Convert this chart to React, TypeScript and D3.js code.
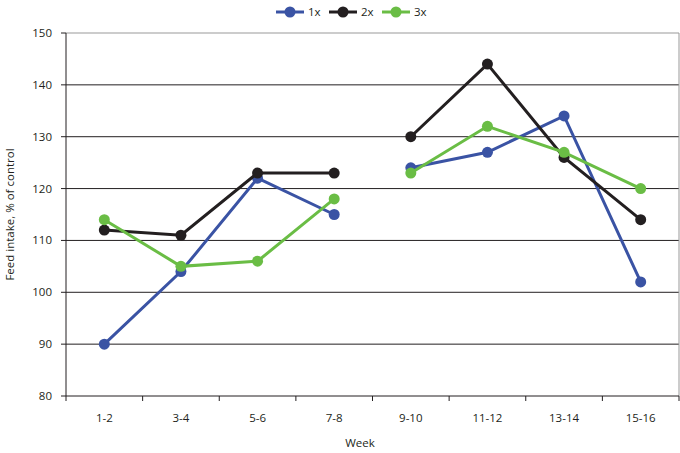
import React from "react";
import * as d3 from "d3";

const categories = ["1-2", "3-4", "5-6", "7-8", "9-10", "11-12", "13-14", "15-16"];
const series1x = [90, 104, 122, 115, 124, 127, 134, 102];
const series2x = [112, 111, 123, 123, 130, 144, 126, 114];
const series3x = [114, 105, 106, 118, 123, 132, 127, 120];
const seriesNames = ["1x", "2x", "3x"];
const yTicks = [80, 90, 100, 110, 120, 130, 140, 150];
const segments = [[0, 3], [4, 7]];

const colors = ["#3a53a4", "#231f20", "#6abd45"];
const W = 680, H = 453;
const m = { left: 66, right: 679, top: 33, bottom: 396 };
const font = "'Open Sans', 'DejaVu Sans', sans-serif";

export default function App() {
  const x = d3.scaleBand().domain(categories).range([m.left, m.right]);
  const y = d3.scaleLinear().domain([80, 150]).range([m.bottom, m.top]);
  const allSeries = [series1x, series2x, series3x];
  const line = d3.line<number>().x((_, i) => 0).y(d => y(d));
  const cx = (i: number) => (x(categories[i]) as number) + x.bandwidth() / 2;
  const lineGen = d3
    .line<[number, number]>()
    .x(d => cx(d[0]))
    .y(d => y(d[1]));
  const legendX = [276, 329, 382];

  return (
    <svg width={W} height={H} style={{ position: "absolute", left: 0, top: 0 }}>
      <rect width={W} height={H} fill="#fff" />
      {yTicks.map(t => (
        <g key={t}>
          {t !== 80 && (
            <line x1={m.left} x2={m.right} y1={y(t)} y2={y(t)} stroke={t === 150 ? "#999" : "#231f20"} strokeWidth={1} />
          )}
          <line x1={m.left - 5} x2={m.left} y1={y(t)} y2={y(t)} stroke="#231f20" />
          <text x={52} y={y(t)} dy="0.35em" textAnchor="end" fontSize={11.5} fontFamily={font} fill="#231f20">{t}</text>
        </g>
      ))}
      <line x1={m.right} x2={m.right} y1={m.top} y2={m.bottom} stroke="#999" />
      <line x1={m.left} x2={m.left} y1={m.top} y2={m.bottom} stroke="#231f20" />
      <line x1={m.left} x2={m.right} y1={m.bottom} y2={m.bottom} stroke="#231f20" />
      {categories.map((c, i) => (
        <g key={c}>
          <line x1={x(c) as number} x2={x(c) as number} y1={m.bottom} y2={m.bottom + 5} stroke="#231f20" />
          <text x={cx(i)} y={422} textAnchor="middle" fontSize={11.5} fontFamily={font} fill="#231f20">{c}</text>
        </g>
      ))}
      <line x1={m.right} x2={m.right} y1={m.bottom} y2={m.bottom + 5} stroke="#231f20" />
      <text x={360} y={447} textAnchor="middle" fontSize={11.5} fontFamily={font} fill="#231f20">Week</text>
      <text transform={`translate(14, ${(m.top + m.bottom) / 2}) rotate(-90)`} textAnchor="middle" fontSize={11.5} fontFamily={font} fill="#231f20">Feed intake, % of control</text>
      {allSeries.map((s, si) => (
        <g key={si}>
          {segments.map(([a, b], k) => {
            const pts: [number, number][] = [];
            for (let i = a; i <= b; i++) pts.push([i, s[i]]);
            return <path key={k} d={lineGen(pts) as string} fill="none" stroke={colors[si]} strokeWidth={3} />;
          })}
          {s.map((v, i) => (
            <circle key={i} cx={cx(i)} cy={y(v)} r={5.5} fill={colors[si]} />
          ))}
        </g>
      ))}
      {seriesNames.map((n, i) => (
        <g key={n}>
          <line x1={legendX[i]} x2={legendX[i] + 28} y1={12} y2={12} stroke={colors[i]} strokeWidth={3} />
          <circle cx={legendX[i] + 14} cy={12} r={5.5} fill={colors[i]} />
          <text x={legendX[i] + 32} y={12} dy="0.35em" fontSize={11.5} fontFamily={font} fill="#231f20">{n}</text>
        </g>
      ))}
    </svg>
  );
}
